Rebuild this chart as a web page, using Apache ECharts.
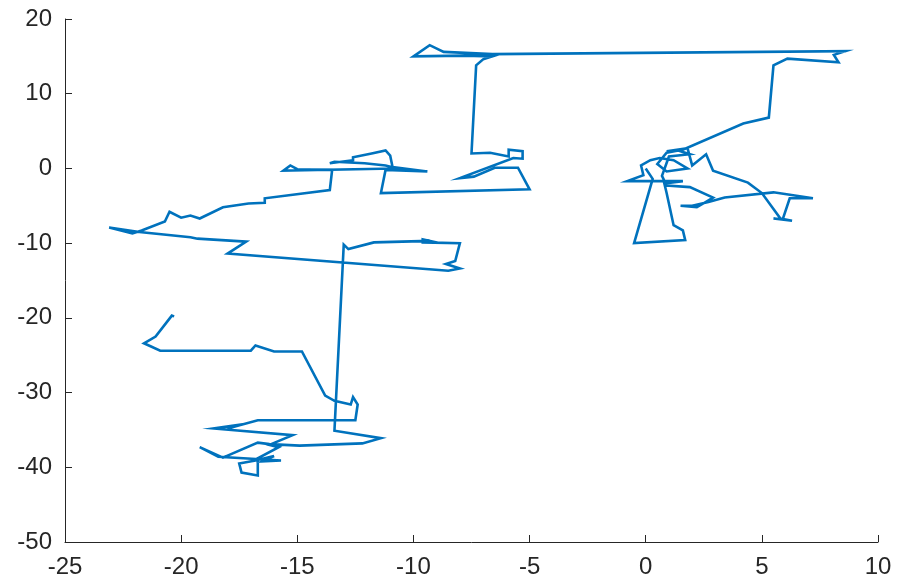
<!DOCTYPE html>
<html>
<head>
<meta charset="utf-8">
<script src="https://cdn.jsdelivr.net/npm/echarts@6/dist/echarts.min.js"></script>
<style>html,body{margin:0;padding:0;background:#fff}#c{width:898px;height:583px}</style>
</head>
<body>
<div id="c"></div>
<script>
// Random-walk path (x, y)
var xs = [0,0.3,-0.5,1.7,1.6,1.2,0.9,0.8,1.6,-0.8,-0.1,-0.2,0.2,0.6,1.2,1.8,0.9,0.5,0.9,1.4,1.9,1.0,0.7,0.9,1.9,2.9,2.2,1.5,2.0,2.7,3.4,5.5,7.2,6.2,5.9,5.5,6.3,5.8,5.0,4.4,2.9,2.6,2.0,1.8,0.9,1.6,4.2,5.3,5.5,6.1,8.3,8.1,8.6,-6.6,-8.7,-9.3,-10.0,-7.8,-6.6,-7.0,-7.3,-7.5,-6.7,-5.9,-5.9,-5.3,-5.3,-5.7,-8.0,-7.4,-6.5,-5.5,-5.0,-11.4,-11.2,-9.4,-10.9,-11.0,-11.2,-11.8,-12.6,-12.6,-13.6,-13.4,-12.1,-11.2,-10.7,-15.6,-15.3,-15.0,-13.5,-13.6,-16.4,-16.4,-17.1,-18.2,-19.2,-19.6,-20.0,-20.5,-20.7,-21.7,-22.1,-23.1,-21.8,-19.6,-19.3,-17.2,-18.0,-8.5,-8.0,-8.6,-8.2,-8.0,-9.6,-9.6,-9.3,-11.7,-12.8,-13.0,-13.4,-11.4,-12.2,-14.9,-16.2,-16.7,-18.2,-19.2,-18.4,-15.7,-16.5,-16.0,-16.8,-17.5,-17.4,-16.7,-16.7,-15.8,-16.2,-15.2,-18.6,-17.7,-18.0,-16.7,-12.5,-12.4,-12.6,-12.7,-13.4,-13.8,-14.8,-16.0,-16.8,-17.0,-20.9,-21.6,-21.1,-20.4,-20.3];
var ys = [0,-1.4,-10.0,-9.6,-8.3,-7.6,-3.3,-2.0,-1.7,-1.7,-0.9,0.4,1.1,1.4,1.1,0.0,-0.4,0.6,2.1,2.4,1.9,1.6,-1.0,-2.3,-2.5,-3.9,-5.2,-5.0,-5.0,-4.5,-3.9,-3.2,-4.0,-4.0,-6.8,-6.7,-7.0,-6.7,-3.3,-1.9,-0.3,1.9,0.4,2.7,2.3,2.5,6.0,6.8,13.8,14.7,14.2,15.2,15.7,15.3,15.6,16.5,15.0,15.1,15.0,14.6,13.8,2.0,2.1,1.6,2.5,2.3,1.3,1.4,-1.3,-1.1,0.1,0.1,-2.8,-3.3,-0.2,-0.4,0.2,1.7,2.4,2.0,1.5,1.1,0.7,0.9,0.7,0.4,0.0,-0.3,0.4,-0.1,-0.2,-2.9,-4.0,-4.6,-4.7,-5.2,-6.7,-6.3,-6.6,-5.8,-7.1,-8.3,-8.7,-7.9,-8.5,-9.2,-9.4,-9.8,-11.4,-13.7,-13.4,-12.8,-12.4,-10.0,-9.9,-9.5,-9.7,-9.9,-10.8,-10.2,-35.1,-36.1,-36.8,-37.1,-36.9,-36.7,-38.7,-37.3,-38.6,-39.1,-39.2,-38.5,-39.1,-39.5,-40.7,-41.1,-38.8,-37.3,-37.0,-35.7,-34.8,-34.4,-34.8,-33.7,-33.7,-31.6,-30.6,-31.6,-31.1,-30.4,-24.5,-24.5,-23.7,-24.4,-24.4,-23.4,-22.5,-19.7,-19.8];
var xTicks = [-25,-20,-15,-10,-5,0,5,10];
var yTicks = [-50,-40,-30,-20,-10,0,10,20];

var pts = xs.map(function(x, i){ return [x, ys[i]]; });
var chart = echarts.init(document.getElementById('c'), null, {renderer:'canvas'});
var axisCommon = {
  type: 'value',
  axisLine: {show: true, onZero: false, lineStyle: {color: '#262626', width: 1}},
  axisTick: {show: true, inside: true, length: 7, lineStyle: {color: '#262626', width: 1}},
  splitLine: {show: false},
  axisLabel: {color: '#262626', fontSize: 24, fontFamily: 'Liberation Sans, Arial, sans-serif', margin: 13}
};
chart.setOption({
  animation: false,
  backgroundColor: '#ffffff',
  grid: {left: 65, right: 20, top: 19, bottom: 41, containLabel: false},
  xAxis: Object.assign({}, axisCommon, {min: xTicks[0], max: xTicks[xTicks.length-1], interval: 5}),
  yAxis: Object.assign({}, axisCommon, {min: yTicks[0], max: yTicks[yTicks.length-1], interval: 10}),
  series: [{
    type: 'line',
    data: pts,
    showSymbol: false,
    symbol: 'none',
    lineStyle: {color: '#0072BD', width: 2.6, join: 'miter'},
    clip: false
  }]
});
</script>
</body>
</html>
